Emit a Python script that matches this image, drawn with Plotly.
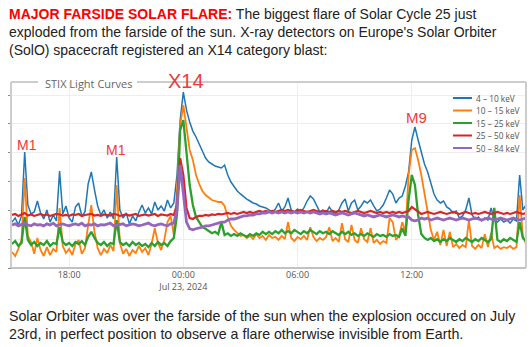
import pandas as pd
import plotly.graph_objects as go

# ---------------- data ----------------
start_time = "2024-07-22 15:00"
end_time = "2024-07-23 18:00"
times = pd.date_range(start_time, end_time, freq="10min")  # 163 samples

series_names = ["4 – 10 keV", "10 – 15 keV", "15 – 25 keV", "25 – 50 keV", "50 – 84 keV"]

counts_4_10 = [
    39, 54, 31, 64, 10600, 153, 75, 88, 211, 81,
    50, 103, 39, 69, 43, 2300, 75, 142, 54, 39,
    131, 180, 64, 88, 820, 2140, 510, 142, 69, 103,
    54, 88, 50, 7100, 103, 54, 81, 34, 64, 43,
    88, 153, 81, 121, 75, 195, 103, 142, 95, 228,
    121, 180, 1680, 136000, 1270000, 300000, 116000, 56000, 35000, 18500,
    11400, 6500, 4750, 4050, 3450, 3190, 2940, 3740, 1680, 960,
    645, 470, 370, 290, 247, 211, 180, 166, 142, 131,
    121, 103, 88, 111, 180, 95, 131, 268, 103, 88,
    111, 88, 121, 211, 314, 247, 153, 88, 103, 81,
    131, 88, 75, 103, 180, 247, 95, 180, 228, 103,
    142, 211, 180, 228, 142, 95, 111, 153, 268, 508,
    369, 180, 268, 314, 700, 2140, 27500, 78000, 27500, 9700,
    4050, 2140, 960, 369, 228, 180, 211, 131, 111, 81,
    95, 54, 64, 103, 268, 69, 50, 59, 43, 54,
    46, 121, 46, 39, 50, 39, 46, 36, 50, 43,
    1680, 103, 153,
]

counts_10_15 = [
    3.6, 2.6, 4.6, 9.4, 1320, 13, 8.0, 3.1, 11, 4.2,
    2.6, 5.3, 2.8, 4.6, 3.6, 121, 5.8, 3.3, 4.6, 2.8,
    6.8, 9.4, 3.1, 4.9, 31, 153, 18, 4.9, 2.8, 4.6,
    3.3, 6.3, 3.9, 757, 7.4, 3.1, 4.6, 2.6, 4.2, 3.3,
    5.8, 3.6, 4.9, 2.8, 6.8, 24, 7.4, 4.2, 9.4, 39,
    64, 14, 508, 91000, 450000, 72000, 12400, 5600, 1680, 820,
    470, 341, 268, 228, 211, 195, 195, 142, 59, 29,
    21, 16, 13, 14, 11, 13, 10, 15, 11, 13,
    9.4, 14, 11, 12, 9.4, 13, 10, 39, 11, 8.6,
    12, 10, 13, 9.4, 26, 12, 8.6, 11, 9.4, 12,
    26, 8.6, 11, 8.0, 36, 10, 8.0, 31, 9.4, 7.4,
    24, 10, 8.0, 24, 7.4, 9.4, 6.8, 8.6, 7.4, 54,
    39, 9.4, 13, 39, 18, 1680, 12400, 14500, 5600, 1680,
    400, 81, 21, 9.4, 18, 6.3, 21, 5.8, 18, 5.3,
    6.8, 4.9, 6.3, 5.3, 46, 5.8, 4.6, 6.3, 4.9, 15,
    5.3, 16, 4.9, 5.8, 4.6, 5.3, 4.9, 5.8, 4.6, 5.3,
    341, 13, 6.8,
]

counts_15_25 = [
    6.8, 8.6, 5.8, 7.4, 59, 9.4, 6.3, 8.0, 5.8, 7.4,
    6.3, 8.6, 5.8, 7.4, 6.8, 26, 8.0, 6.3, 7.4, 5.8,
    8.0, 6.8, 8.6, 6.3, 12, 18, 11, 7.4, 6.3, 8.0,
    5.8, 7.4, 6.8, 46, 8.0, 6.3, 7.4, 5.8, 8.0, 6.3,
    7.4, 5.8, 6.8, 5.3, 7.4, 5.8, 8.0, 6.3, 7.4, 5.8,
    8.6, 11, 69, 61000, 136000, 8300, 757, 153, 59, 39,
    26, 23, 19, 16, 18, 15, 39, 14, 16, 13,
    15, 13, 16, 14, 12, 15, 13, 16, 14, 18,
    15, 18, 15, 19, 16, 21, 16, 19, 16, 21,
    18, 15, 19, 16, 21, 18, 15, 19, 16, 18,
    15, 19, 16, 14, 18, 15, 18, 14, 16, 13,
    15, 13, 16, 14, 12, 15, 13, 14, 12, 15,
    13, 14, 12, 24, 13, 228, 1680, 757, 69, 15,
    11, 9.4, 11, 8.6, 10, 8.0, 10, 8.6, 11, 9.4,
    8.0, 10, 8.6, 11, 9.4, 8.0, 10, 8.6, 11, 9.4,
    8.0, 10, 121, 9.4, 8.0, 10, 8.6, 11, 9.4, 8.0,
    39, 11, 8.6,
]

counts_25_50 = [
    69, 75, 64, 72, 81, 66, 72, 64, 69, 75,
    66, 72, 64, 69, 75, 72, 66, 69, 64, 72,
    69, 75, 64, 69, 72, 75, 66, 69, 64, 72,
    69, 66, 75, 72, 64, 69, 72, 66, 69, 75,
    64, 69, 72, 66, 69, 75, 64, 72, 69, 66,
    75, 69, 153, 6500, 1680, 121, 54, 50, 59, 64,
    64, 69, 66, 72, 69, 75, 72, 75, 81, 75,
    81, 75, 81, 88, 81, 88, 81, 88, 95, 88,
    95, 88, 95, 88, 95, 103, 95, 103, 95, 88,
    95, 103, 95, 88, 95, 103, 95, 88, 95, 95,
    88, 95, 88, 95, 88, 95, 88, 81, 88, 95,
    88, 81, 88, 95, 88, 81, 88, 81, 88, 81,
    88, 81, 88, 81, 88, 95, 131, 111, 88, 75,
    81, 88, 81, 75, 81, 88, 81, 75, 81, 88,
    81, 75, 81, 88, 81, 75, 81, 75, 81, 88,
    81, 75, 81, 88, 81, 75, 81, 75, 81, 88,
    81, 75, 81,
]

counts_50_84 = [
    31, 34, 29, 32, 36, 31, 29, 34, 31, 32,
    29, 34, 31, 36, 29, 32, 34, 31, 29, 32,
    34, 31, 36, 29, 32, 31, 34, 29, 32, 31,
    34, 36, 29, 31, 32, 34, 29, 31, 34, 32,
    29, 31, 34, 36, 31, 29, 32, 34, 31, 29,
    34, 36, 103, 3740, 400, 39, 23, 21, 23, 24,
    26, 29, 29, 31, 34, 36, 39, 39, 46, 50,
    50, 54, 59, 64, 64, 69, 69, 75, 75, 81,
    81, 88, 81, 88, 81, 88, 81, 88, 81, 88,
    81, 88, 81, 88, 81, 88, 81, 75, 81, 75,
    81, 75, 69, 75, 81, 75, 69, 75, 81, 75,
    69, 64, 69, 64, 59, 64, 69, 64, 59, 64,
    69, 64, 59, 64, 59, 59, 46, 43, 46, 54,
    50, 54, 46, 50, 54, 50, 46, 50, 54, 50,
    46, 50, 54, 50, 46, 50, 54, 50, 46, 50,
    54, 50, 46, 50, 54, 50, 46, 50, 54, 50,
    46, 50, 54,
]

all_series = [counts_4_10, counts_10_15, counts_15_25, counts_25_50, counts_50_84]

tick_times = ["2024-07-22 18:00", "2024-07-23 00:00", "2024-07-23 06:00", "2024-07-23 12:00"]
tick_labels = ["18:00", "00:00<br>Jul 23, 2024", "06:00", "12:00"]

flare_classes = ["M1", "M1", "X14", "M9"]

# ---------------- styling ----------------
colors = ["#1f77b4", "#ff7f0e", "#2ca02c", "#d62728", "#9467bd"]
widths = [1.5, 1.8, 2.3, 2.2, 2.8]

W, H = 532, 347
L_, R_, T_, B_ = 12, 6, 82, 79
PW, PH = W - L_ - R_, H - T_ - B_


def px(x):
    return (x - L_) / PW


def py(y):
    return (H - B_ - y) / PH


fig = go.Figure()
for name, col, vals, w in zip(series_names, colors, all_series, widths):
    fig.add_trace(go.Scatter(x=times, y=vals, mode="lines", name=name,
                             line=dict(color=col, width=w), showlegend=False))

frame_col = "#cdcdcd"
shapes = [
    dict(type="line", xref="paper", yref="paper", x0=px(11), x1=px(11), y0=0, y1=1,
         line=dict(color=frame_col, width=2)),
    dict(type="line", xref="paper", yref="paper", x0=1, x1=1, y0=0, y1=1,
         line=dict(color=frame_col, width=2)),
    dict(type="line", xref="paper", yref="paper", x0=px(11), x1=1, y0=0, y1=0,
         line=dict(color="#c2c2c2", width=2)),
    dict(type="line", xref="paper", yref="paper", x0=px(11), x1=px(38), y0=1, y1=1,
         line=dict(color=frame_col, width=2)),
    dict(type="line", xref="paper", yref="paper", x0=px(137), x1=1, y0=1, y1=1,
         line=dict(color=frame_col, width=2)),
]

annotations = []
# compact legend drawn in the top-right corner
leg_rows = [98, 110.5, 123, 135.5, 148]
for name, col, yy in zip(series_names, colors, leg_rows):
    shapes.append(dict(type="line", xref="paper", yref="paper", x0=px(453), x1=px(472),
                       y0=py(yy), y1=py(yy), line=dict(color=col, width=2)))
    annotations.append(dict(xref="paper", yref="paper", x=px(474), y=py(yy), text=name,
                            showarrow=False, xanchor="left", yanchor="middle",
                            font=dict(family="Open Sans", size=8.3, color="#555")))

annotations.append(dict(xref="paper", yref="paper", x=px(88), y=py(83), text="STIX Light Curves",
                        showarrow=False, xanchor="center", yanchor="middle",
                        font=dict(family="Open Sans", size=11, color="#666")))

label_pos = [(26.5, 145, 14), (115.5, 149.5, 14), (185.5, 80.5, 20), (416, 117.5, 15)]
for txt, (lx, ly, fs) in zip(flare_classes, label_pos):
    annotations.append(dict(xref="paper", yref="paper", x=px(lx), y=py(ly), text=txt,
                            showarrow=False, xanchor="center", yanchor="middle",
                            font=dict(family="Liberation Sans", size=fs, color="#ee3b3b")))

top_text = ("<b><span style='color:#ff0000'>MAJOR FARSIDE SOLAR FLARE:</span></b> "
            "The biggest flare of Solar Cycle 25 just<br>"
            "exploded from the farside of the sun. X-ray detectors on Europe's Solar Orbiter<br>"
            "(SolO) spacecraft registered an X14 category blast:")
bottom_text = ("Solar Orbiter was over the farside of the sun when the explosion occured on July<br>"
               "23rd, in perfect position to observe a flare otherwise invisible from Earth.")
annotations.append(dict(xref="paper", yref="paper", x=px(7), y=py(4), text=top_text,
                        showarrow=False, xanchor="left", yanchor="top", align="left",
                        font=dict(family="Liberation Sans", size=14, color="#222")))
annotations.append(dict(xref="paper", yref="paper", x=px(7), y=py(306), text=bottom_text,
                        showarrow=False, xanchor="left", yanchor="top", align="left",
                        font=dict(family="Liberation Sans", size=14.2, color="#222")))

fig.update_layout(
    width=W, height=H, margin=dict(l=L_, r=R_, t=T_, b=B_),
    paper_bgcolor="white", plot_bgcolor="white",
    shapes=shapes, annotations=annotations, showlegend=False,
    xaxis=dict(type="date", range=[times[0], times[-1]], tickvals=tick_times, ticktext=tick_labels,
               showgrid=True, gridcolor="#eeeeee", gridwidth=1, showline=False, zeroline=False,
               ticks="", tickfont=dict(family="Open Sans", size=9, color="#555")),
    yaxis=dict(type="log", range=[0, 6.452], dtick=1, showgrid=True, gridcolor="#eeeeee",
               showticklabels=False, ticks="outside", ticklen=3, tickcolor="#888",
               showline=False, zeroline=False),
)

fig.write_html("out.html")
